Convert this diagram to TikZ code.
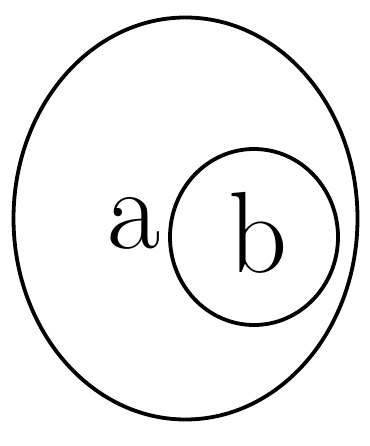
\documentclass[tikz,border=0pt]{standalone}
\begin{document}
\begin{tikzpicture}[x=1bp,y=-1bp,
  ring/.style={draw=black,line width=3.8bp},
  lbl/.style={inner sep=0pt,anchor=base,font=\fontsize{116}{116}\selectfont}]
\useasboundingbox (0,0) rectangle (369,446);
\draw[ring] (185.5,218.5) ellipse [x radius=172,y radius=201];
\draw[ring] (254,237) ellipse [x radius=84,y radius=88];
\node[lbl] (a) at (134,248) {a};
\node[lbl] (b) at (258,272) {b};
\end{tikzpicture}
\end{document}
